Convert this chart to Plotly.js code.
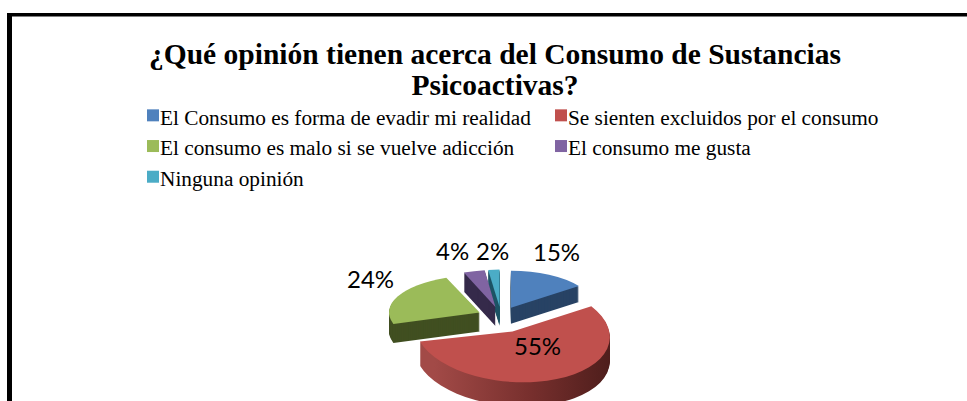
<!DOCTYPE html>
<html><head><meta charset="utf-8">
<script src="https://cdn.plot.ly/plotly-3.0.1.min.js"></script>
<style>html,body{margin:0;padding:0;background:#fff;overflow:hidden}</style>
</head><body><div id="chart" style="width:967px;height:401px"></div>
<script>
const titleText = "<b>¿Qué opinión tienen acerca del Consumo de Sustancias<br>Psicoactivas?</b>";
const categories = ["El Consumo es forma de evadir mi realidad","Se sienten excluidos por el consumo","El consumo es malo si se vuelve adicción","El consumo me gusta","Ninguna opinión"];
const values = [15,55,24,4,2];
const topColors = ["#4f81bd","#c0504d","#9bbb59","#8064a2","#4bacc6"];
const sideColors = ["#284364","#7a3331","#414f21","#352a4a","#1f5566"];
const NONE = "rgba(0,0,0,0)";
const pullAmount = 0.26;
const sideDepths = [16,24,19,19,19];

// per-slice view of the flat pie: horizontal scale, tilt, vertical squash, centre on the page
const view = [
 {sx:0.88,b:0,k:0.39,cx:501,cy:316.5},
 {sx:1.02,b:0.06,k:0.53,cx:501,cy:319},
 {sx:0.95,b:0,k:0.39,cx:501,cy:316.5},
 {sx:0.90,b:0,k:0.39,cx:501,cy:316.5},
 {sx:0.95,b:0,k:0.39,cx:501,cy:316.5}
];
const W=967,H=401, dom=0.6;
const base = {type:"pie",labels:categories,values:values,sort:false,direction:"clockwise",rotation:0,
  pull:pullAmount,textinfo:"none",hoverinfo:"label+percent",domain:{x:[0.5-dom*H/W/2,0.5+dom*H/W/2],y:[0.2,0.8]}};
const traces=[], layers=[];
function add(colors,d,showlegend){
  traces.push(Object.assign({},base,{marker:{colors:colors,line:{width:0}},showlegend:showlegend}));
  layers.push(d);
}
// hidden carrier of the legend swatches
add(topColors,null,true);
const maxDepth=Math.max(...sideDepths);
for(let d=maxDepth;d>0;d--) add(sideColors.map((c,i)=>i===1&&d<=sideDepths[i]?c:NONE),d,false);
add(topColors.map((c,i)=>i===1?c:NONE),0,false);
for(let d=maxDepth;d>0;d--) add(sideColors.map((c,i)=>i!==1&&d<=sideDepths[i]?c:NONE),d,false);
add(topColors.map((c,i)=>i!==1?c:NONE),0,false);

const labelPos=[[556,251],[537,345],[370,278],[452,250],[492,250]];
const annotations=values.map((v,i)=>({text:v+"%",xref:"paper",yref:"paper",x:labelPos[i][0]/W,y:1-labelPos[i][1]/H,
  showarrow:false,xanchor:"center",yanchor:"middle",font:{family:"Lato, 'Open Sans', sans-serif",size:24,color:"#000"}}));

const frame=(x0,y0,x1,y1)=>({type:"rect",xref:"paper",yref:"paper",x0:x0/W,x1:x1/W,y0:1-y0/H,y1:1-y1/H,fillcolor:"#000",line:{width:0},layer:"above"});
const layout={width:W,height:H,margin:{l:0,r:0,t:0,b:0},paper_bgcolor:"#fff",showlegend:true,
 title:{text:titleText,x:495/W,xanchor:"center",y:1-64/H,yanchor:"top",font:{family:"Liberation Serif",size:29.5,color:"#000"}},
 legend:{orientation:"h",x:120/W,y:1-96/H,xanchor:"left",yanchor:"top",entrywidth:363,entrywidthmode:"pixels",
   font:{family:"Liberation Serif",size:21.3,color:"#000"},bgcolor:"rgba(0,0,0,0)",traceorder:"normal"},
 annotations:annotations,
 shapes:[frame(7,13,12,401),frame(7,13,967,16.5)]
};
Plotly.newPlot("chart",traces,layout,{displayModeBar:false}).then(()=>{
  const gd=document.getElementById("chart");
  const svg=gd.querySelector(".main-svg");
  const ns="http://www.w3.org/2000/svg";
  const defs=svg.querySelector("defs");
  const g=document.createElementNS(ns,"linearGradient");
  g.setAttribute("id","redSide");g.setAttribute("gradientUnits","userSpaceOnUse");
  g.setAttribute("x1",418);g.setAttribute("x2",608);g.setAttribute("y1",0);g.setAttribute("y2",0);
  [[0,"#a24a47"],[0.5,"#772f2d"],[1,"#451a18"]].forEach(s=>{const e=document.createElementNS(ns,"stop");e.setAttribute("offset",s[0]);e.setAttribute("stop-color",s[1]);g.appendChild(e);});
  defs.appendChild(g);
  gd.querySelectorAll(".pielayer g.trace").forEach((t,ti)=>{
    if(layers[ti]===null){t.style.display="none";return;}
    const cd=gd.calcdata[ti][0];
    t.querySelectorAll("g.slice").forEach((s,si)=>{
      const v=view[si];
      s.setAttribute("transform",`translate(${v.cx},${v.cy+layers[ti]}) matrix(${v.sx},${v.b},0,${v.k},0,0) translate(${-cd.cx},${-cd.cy})`);
      if(si===1&&layers[ti]>0&&layers[ti]<=sideDepths[1]){ s.querySelector("path").style.fill="url(#redSide)"; }
    });
  });
  // tighter title leading and swatch closer to its text
  gd.querySelectorAll(".gtitle tspan.line").forEach((l,i)=>{ if(i>0) l.setAttribute("dy","1.05em"); });
  gd.querySelectorAll(".legend .legendpoints").forEach(p=>{p.setAttribute("transform","translate(13,-1)");});
});
</script></body></html>
